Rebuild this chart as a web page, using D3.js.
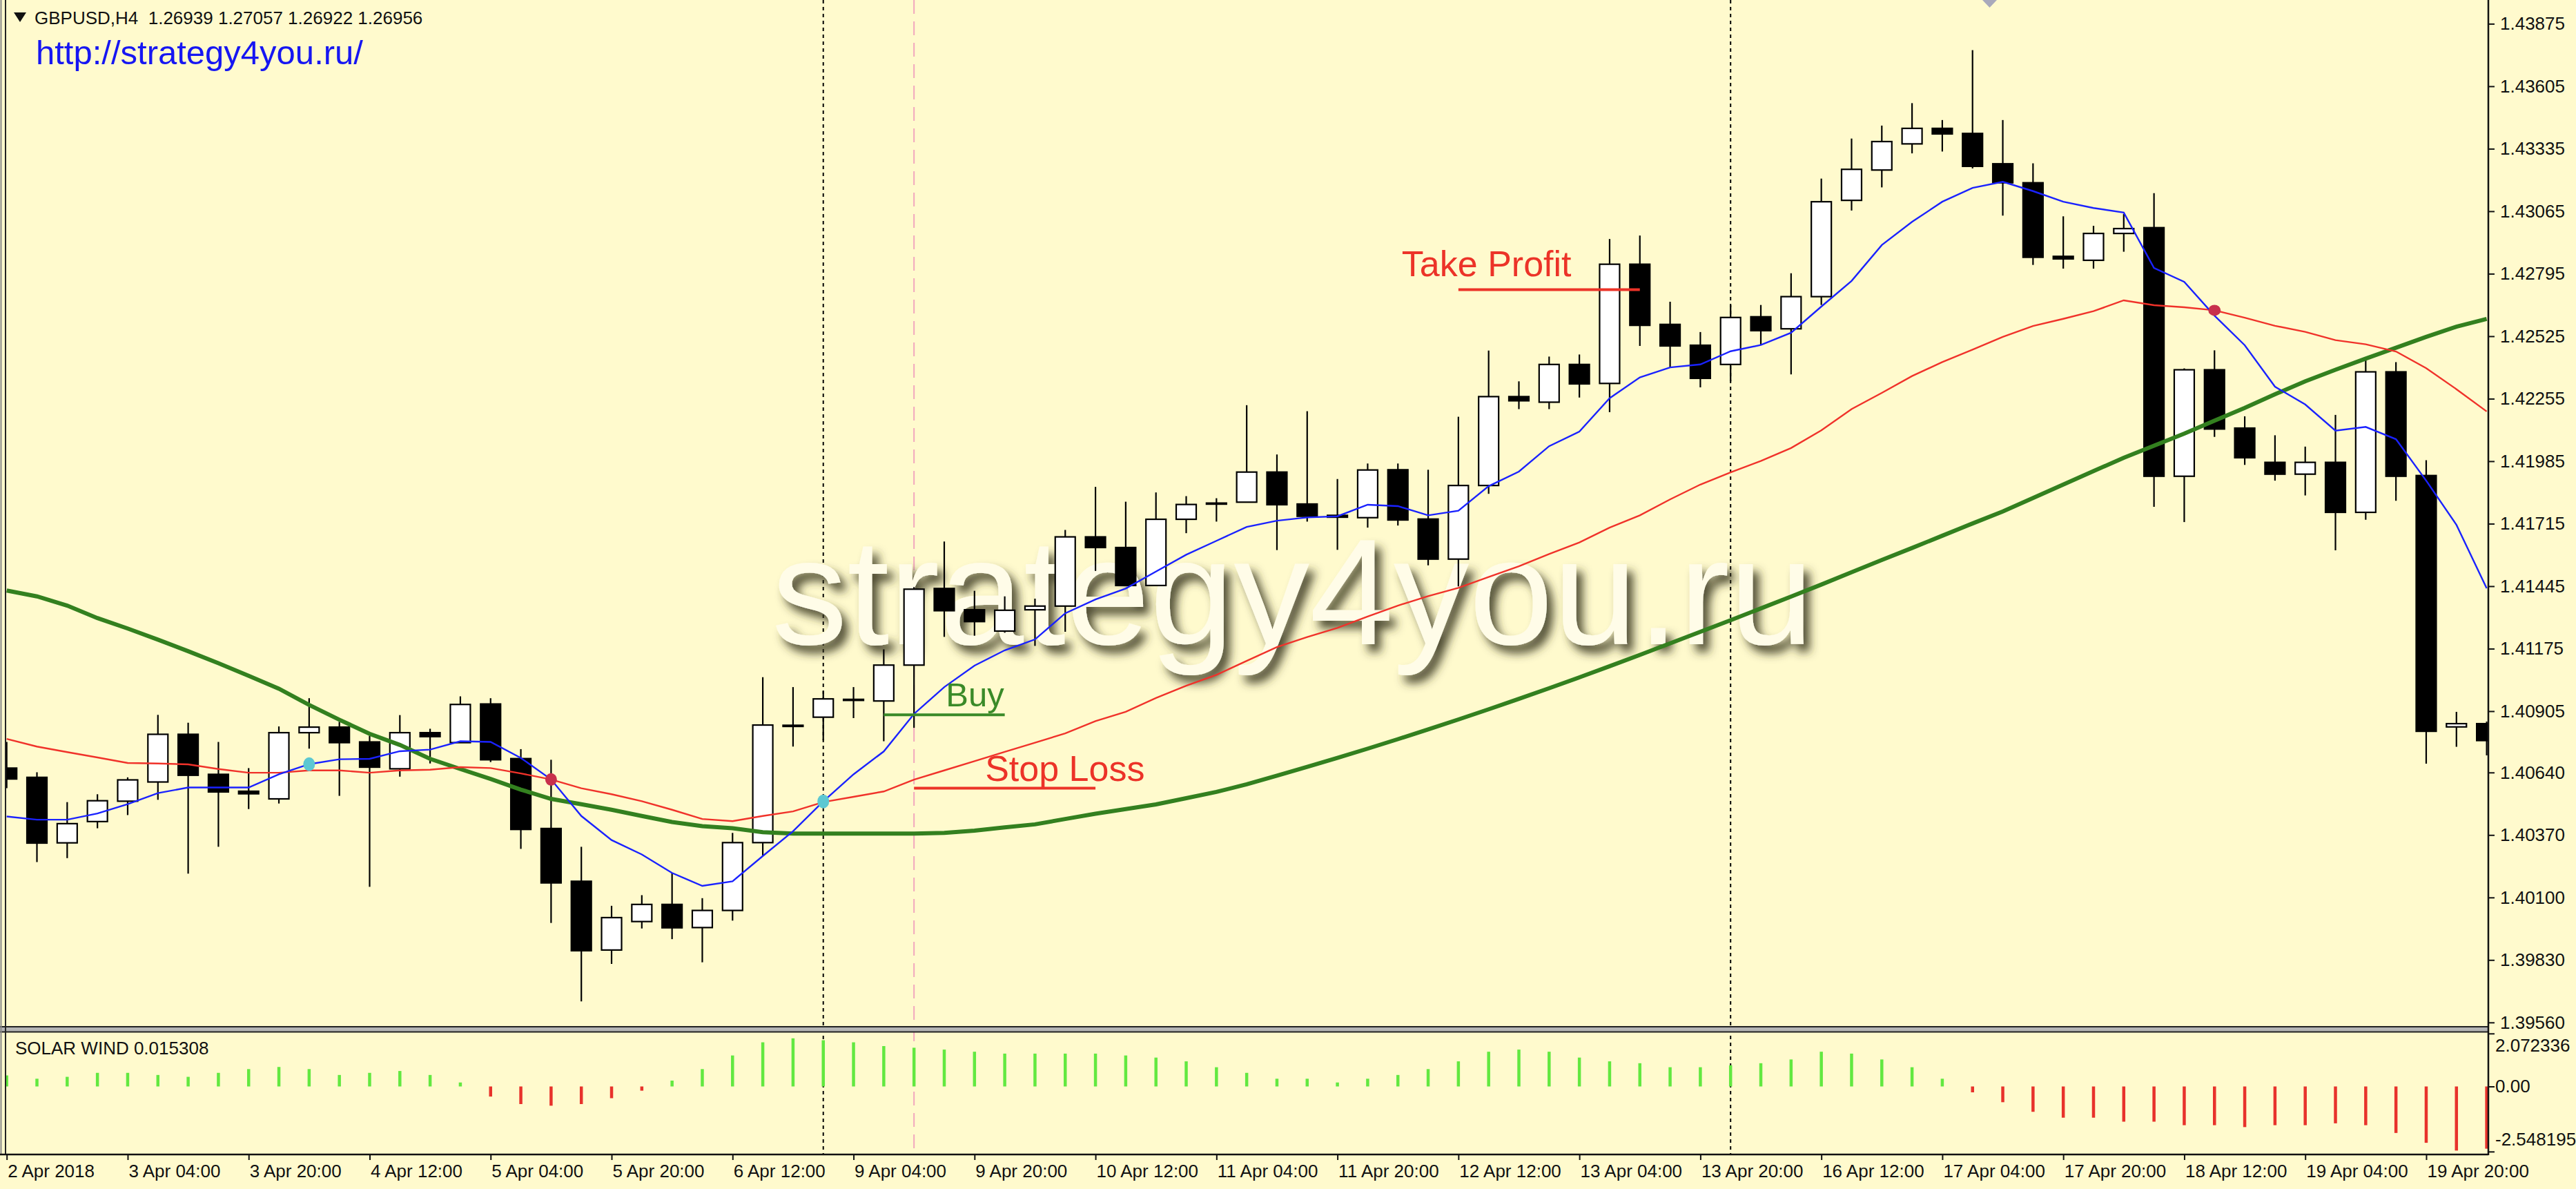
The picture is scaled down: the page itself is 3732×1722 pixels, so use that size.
<!DOCTYPE html>
<html>
<head>
<meta charset="utf-8">
<script src="https://cdn.jsdelivr.net/npm/d3@7"></script>
<style>
body { margin: 0; background: #fffacd; }
svg { display: block; }
</style>
</head>
<body>
<div id="chart"></div>
<script>
// GBPUSD H4 candles (bar 0 = 2 Apr 12:00)
var opens  = [1.40659,1.40619,1.40336,1.40428,1.40516,1.40599,1.40805,1.40632,1.40559,1.40526,
              1.40812,1.40836,1.40772,1.40656,1.40812,1.40769,1.40936,1.40700,1.40398,1.40170,
              1.39873,1.39996,1.40070,1.39970,1.40044,1.40337,1.40844,1.40879,1.40956,1.40949,
              1.41104,1.41435,1.41343,1.41251,1.41343,1.41359,1.41658,1.41612,1.41448,1.41734,
              1.41804,1.41808,1.41938,1.41800,1.41751,1.41741,1.41948,1.41735,1.41562,1.41880,
              1.42264,1.42240,1.42403,1.42321,1.42836,1.42576,1.42486,1.42403,1.42609,1.42557,
              1.42696,1.43112,1.43243,1.43356,1.43423,1.43401,1.43270,1.43188,1.42870,1.42853,
              1.42969,1.42994,1.41920,1.42380,1.42128,1.41980,1.41929,1.41980,1.41764,1.42371,
              1.41923,1.40837,1.40851];
var highs  = [1.40772,1.40641,1.40512,1.40546,1.40619,1.40889,1.40855,1.40772,1.40659,1.40839,
              1.40961,1.40859,1.40799,1.40888,1.40829,1.40969,1.40961,1.40741,1.40695,1.40319,
              1.40064,1.40110,1.40206,1.40097,1.40379,1.41052,1.41009,1.40992,1.41009,1.41172,
              1.41441,1.41638,1.41425,1.41401,1.41391,1.41688,1.41874,1.41810,1.41850,1.41834,
              1.41825,1.42227,1.42014,1.42201,1.41908,1.41975,1.41975,1.41948,1.42177,1.42463,
              1.42330,1.42437,1.42446,1.42945,1.42960,1.42674,1.42543,1.42660,1.42660,1.42797,
              1.43206,1.43379,1.43435,1.43532,1.43459,1.43761,1.43459,1.43272,1.43043,1.43002,
              1.43053,1.43143,1.42386,1.42464,1.42179,1.42097,1.42048,1.42185,1.42435,1.42413,
              1.41989,1.40902,1.40860];
var lows   = [1.40572,1.40253,1.40270,1.40399,1.40456,1.40522,1.40203,1.40319,1.40482,1.40506,
              1.40743,1.40539,1.40146,1.40622,1.40679,1.40769,1.40685,1.40310,1.39990,1.39651,
              1.39813,1.39966,1.39920,1.39820,1.40000,1.40279,1.40752,1.40779,1.40875,1.40775,
              1.40833,1.41226,1.41231,1.41244,1.41187,1.41248,1.41511,1.41448,1.41448,1.41674,
              1.41724,1.41808,1.41601,1.41724,1.41602,1.41698,1.41707,1.41535,1.41444,1.41844,
              1.42210,1.42210,1.42260,1.42197,1.42483,1.42390,1.42304,1.42330,1.42487,1.42360,
              1.42660,1.43068,1.43168,1.43315,1.43323,1.43250,1.43046,1.42833,1.42817,1.42817,
              1.42890,1.41788,1.41722,1.42090,1.41969,1.41901,1.41837,1.41600,1.41732,1.41814,
              1.40678,1.40751,1.40714];
var closes = [1.40612,1.40335,1.40419,1.40518,1.40608,1.40805,1.40628,1.40556,1.40548,1.40812,
              1.40836,1.40769,1.40663,1.40812,1.40795,1.40934,1.40695,1.40394,1.40163,1.39870,
              1.40013,1.40070,1.39969,1.40044,1.40337,1.40845,1.40839,1.40958,1.40954,1.41104,
              1.41432,1.41339,1.41292,1.41341,1.41359,1.41658,1.41612,1.41448,1.41734,1.41798,
              1.41801,1.41938,1.41797,1.41747,1.41743,1.41947,1.41731,1.41562,1.41880,1.42264,
              1.42246,1.42403,1.42319,1.42836,1.42572,1.42483,1.42343,1.42606,1.42549,1.42696,
              1.43106,1.43246,1.43366,1.43423,1.43399,1.43259,1.43188,1.42866,1.42859,1.42969,
              1.42990,1.41920,1.42380,1.42124,1.42000,1.41929,1.41980,1.41764,1.42371,1.41920,
              1.40818,1.40851,1.40778];

// moving averages (blue fast, red middle, green slow)
var maFast = [1.40450,1.40436,1.40436,1.40463,1.40503,1.40551,1.40575,1.40575,1.40575,1.40632,
              1.40676,1.40697,1.40699,1.40732,1.40739,1.40775,1.40772,1.40703,1.40610,1.40452,
              1.40348,1.40286,1.40206,1.40150,1.40170,1.40279,1.40386,1.40515,1.40632,1.40731,
              1.40893,1.41009,1.41102,1.41168,1.41215,1.41328,1.41388,1.41435,1.41508,1.41581,
              1.41641,1.41701,1.41728,1.41742,1.41747,1.41797,1.41791,1.41751,1.41771,1.41877,
              1.41940,1.42050,1.42113,1.42257,1.42347,1.42390,1.42403,1.42460,1.42487,1.42540,
              1.42653,1.42764,1.42919,1.43019,1.43106,1.43166,1.43192,1.43152,1.43106,1.43079,
              1.43059,1.42820,1.42760,1.42614,1.42486,1.42307,1.42230,1.42117,1.42133,1.42080,
              1.41901,1.41710,1.41436];
var maMid  = [1.40785,1.40752,1.40728,1.40705,1.40681,1.40679,1.40675,1.40655,1.40639,1.40639,
              1.40649,1.40649,1.40639,1.40649,1.40652,1.40663,1.40659,1.40636,1.40610,1.40572,
              1.40546,1.40516,1.40479,1.40439,1.40430,1.40452,1.40472,1.40512,1.40535,1.40558,
              1.40609,1.40649,1.40689,1.40729,1.40769,1.40809,1.40862,1.40902,1.40962,1.41015,
              1.41062,1.41122,1.41182,1.41225,1.41265,1.41314,1.41361,1.41402,1.41438,1.41485,
              1.41531,1.41584,1.41634,1.41698,1.41751,1.41820,1.41884,1.41937,1.41986,1.42042,
              1.42118,1.42210,1.42280,1.42353,1.42413,1.42467,1.42522,1.42569,1.42600,1.42633,
              1.42680,1.42659,1.42650,1.42637,1.42605,1.42570,1.42544,1.42508,1.42490,1.42459,
              1.42387,1.42296,1.42200];
var maSlow = [1.41426,1.41401,1.41361,1.41307,1.41262,1.41214,1.41164,1.41112,1.41058,1.41002,
              1.40932,1.40868,1.40807,1.40759,1.40699,1.40655,1.40612,1.40566,1.40526,1.40503,
              1.40479,1.40452,1.40426,1.40408,1.40399,1.40382,1.40376,1.40376,1.40376,1.40376,
              1.40376,1.40379,1.40389,1.40403,1.40416,1.40439,1.40462,1.40482,1.40502,1.40529,
              1.40556,1.40589,1.40626,1.40664,1.40703,1.40743,1.40784,1.40826,1.40869,1.40913,
              1.40958,1.41004,1.41051,1.41099,1.41148,1.41198,1.41248,1.41298,1.41349,1.41400,
              1.41452,1.41505,1.41558,1.41610,1.41663,1.41716,1.41768,1.41826,1.41884,1.41942,
              1.42000,1.42052,1.42104,1.42160,1.42215,1.42274,1.42330,1.42380,1.42428,1.42475,
              1.42522,1.42566,1.42600];

// SOLAR WIND histogram
var solarWind = [0.432,0.303,0.377,0.533,0.533,0.450,0.377,0.533,0.680,0.763,
                 0.680,0.450,0.533,0.606,0.450,0.156,-0.395,-0.689,-0.753,-0.689,
                 -0.459,-0.165,0.230,0.680,1.213,1.728,1.884,1.810,1.728,1.581,
                 1.516,1.443,1.360,1.286,1.286,1.286,1.286,1.213,1.130,0.983,
                 0.753,0.533,0.303,0.303,0.156,0.303,0.450,0.680,0.983,1.360,
                 1.443,1.360,1.130,0.983,0.910,0.753,0.753,0.827,0.910,1.057,
                 1.360,1.286,1.057,0.753,0.303,-0.230,-0.616,-0.992,-1.222,-1.222,
                 -1.378,-1.378,-1.516,-1.516,-1.590,-1.516,-1.516,-1.443,-1.516,-1.820,
                 -2.205,-2.509,-2.435];

var timeTicks  = [0,4,8,12,16,20,24,28,32,36,40,44,48,52,56,60,64,68,72,76,80];
var timeLabels = ["2 Apr 2018","3 Apr 04:00","3 Apr 20:00","4 Apr 12:00","5 Apr 04:00","5 Apr 20:00",
                  "6 Apr 12:00","9 Apr 04:00","9 Apr 20:00","10 Apr 12:00","11 Apr 04:00","11 Apr 20:00",
                  "12 Apr 12:00","13 Apr 04:00","13 Apr 20:00","16 Apr 12:00","17 Apr 04:00","17 Apr 20:00",
                  "18 Apr 12:00","19 Apr 04:00","19 Apr 20:00"];
var priceTicks = [1.43875,1.43605,1.43335,1.43065,1.42795,1.42525,1.42255,1.41985,1.41715,
                  1.41445,1.41175,1.40905,1.40640,1.40370,1.40100,1.39830,1.39560];
var windTicks = [2.072336, 0, -2.548195];
var windTickLabels = ["2.072336", "0.00", "-2.548195"];

var weekSeparators = [27, 57];
var markerBar = 30;
var upDots = [10, 27];        // cyan dots on the fast MA
var downDots = [18];          // crimson dots on the fast MA
var downDotsMid = [73];       // crimson dot on the middle MA

var tradeNames  = ["Buy", "Stop Loss", "Take Profit"];
var tradePrices = [1.40889, 1.40572, 1.42726];
var tradeFrom   = [29, 30, 48];
var tradeTo     = [33, 36, 54];

var W = 3732, H = 1722;
var axisX = 3605;
var font = "'Liberation Sans', Arial, sans-serif";

var svg = d3.select("#chart").append("svg")
    .attr("width", W).attr("height", H)
    .style("background", "#fffacd");

var x = d3.scaleLinear().domain([0, 82]).range([9.7, 3602.6]);
var y = d3.scaleLinear().domain([1.39560, 1.43875]).range([1480.8, 34.4]);
var yw = d3.scaleLinear().domain([-2.548195, 2.072336]).range([1667.8, 1496.8]);

var defs = svg.append("defs");
defs.append("clipPath").attr("id", "clipMain").append("rect")
    .attr("x", 9).attr("y", 0).attr("width", axisX - 9).attr("height", 1487);
defs.append("clipPath").attr("id", "clipWind").append("rect")
    .attr("x", 9).attr("y", 1495).attr("width", axisX - 9).attr("height", 176);

var flt = defs.append("filter").attr("id", "wmShadow")
    .attr("x", "-5%").attr("y", "-30%").attr("width", "115%").attr("height", "170%");
flt.append("feGaussianBlur").attr("in", "SourceAlpha").attr("stdDeviation", 7).attr("result", "blur");
flt.append("feOffset").attr("in", "blur").attr("dx", 9).attr("dy", 11).attr("result", "off");
flt.append("feFlood").attr("flood-color", "#3a3820").attr("flood-opacity", 0.9).attr("result", "col");
flt.append("feComposite").attr("in", "col").attr("in2", "off").attr("operator", "in").attr("result", "shadow");
var merge = flt.append("feMerge");
merge.append("feMergeNode").attr("in", "shadow");
merge.append("feMergeNode").attr("in", "SourceGraphic");

// vertical separators through both panels
svg.selectAll("line.sep").data(weekSeparators).enter().append("line")
    .attr("class", "sep")
    .attr("x1", function (d) { return x(d); }).attr("x2", function (d) { return x(d); })
    .attr("y1", 0).attr("y2", 1671)
    .attr("stroke", "#000").attr("stroke-width", 2).attr("stroke-dasharray", "5,5");

svg.append("line")
    .attr("x1", x(markerBar)).attr("x2", x(markerBar))
    .attr("y1", 0).attr("y2", 1671)
    .attr("stroke", "#f2a7bd").attr("stroke-width", 2).attr("stroke-dasharray", "20,11");

// main panel
var main = svg.append("g").attr("clip-path", "url(#clipMain)");

// watermark, under the candles
main.append("text")
    .attr("x", 1118).attr("y", 933)
    .attr("font-family", font).attr("font-size", 219)
    .attr("fill", "#fffce8")
    .attr("filter", "url(#wmShadow)")
    .text("strategy4you.ru");

var bars = d3.range(opens.length).map(function (i) {
    return { i: i, o: opens[i], h: highs[i], l: lows[i], c: closes[i] };
});

main.selectAll("line.wick").data(bars).enter().append("line")
    .attr("class", "wick")
    .attr("x1", function (d) { return x(d.i); }).attr("x2", function (d) { return x(d.i); })
    .attr("y1", function (d) { return y(d.h); }).attr("y2", function (d) { return y(d.l); })
    .attr("stroke", "#000").attr("stroke-width", 2.2);

var bodyW = 29;
main.selectAll("rect.body").data(bars).enter().append("rect")
    .attr("class", "body")
    .attr("x", function (d) { return x(d.i) - bodyW / 2; })
    .attr("width", bodyW)
    .attr("y", function (d) { return y(Math.max(d.o, d.c)); })
    .attr("height", function (d) { return Math.max(y(Math.min(d.o, d.c)) - y(Math.max(d.o, d.c)), 1.5); })
    .attr("fill", function (d) { return d.c >= d.o ? "#fff" : "#000"; })
    .attr("stroke", "#000").attr("stroke-width", 2.2);

// moving averages
function maLine(arr) {
    return d3.line().x(function (d, i) { return x(i); }).y(function (d) { return y(d); })(arr);
}
main.append("path").attr("d", maLine(maSlow)).attr("fill", "none")
    .attr("stroke", "#33801f").attr("stroke-width", 6);
main.append("path").attr("d", maLine(maMid)).attr("fill", "none")
    .attr("stroke", "#f0322a").attr("stroke-width", 2.4);
main.append("path").attr("d", maLine(maFast)).attr("fill", "none")
    .attr("stroke", "#1a22ff").attr("stroke-width", 2.4);

main.selectAll("ellipse.up").data(upDots).enter().append("ellipse")
    .attr("cx", function (d) { return x(d); }).attr("cy", function (d) { return y(maFast[d]); })
    .attr("rx", 8.5).attr("ry", 10).attr("fill", "#5cc8d2");
main.selectAll("ellipse.dn").data(downDots).enter().append("ellipse")
    .attr("cx", function (d) { return x(d); }).attr("cy", function (d) { return y(maFast[d]); })
    .attr("rx", 8.5).attr("ry", 9).attr("fill", "#c8304c");
main.selectAll("ellipse.dnm").data(downDotsMid).enter().append("ellipse")
    .attr("cx", function (d) { return x(d); }).attr("cy", function (d) { return y(maMid[d]); })
    .attr("rx", 9).attr("ry", 8).attr("fill", "#c8304c");

// trade levels
var tradeColors = ["#3a8a28", "#ec3328", "#ec3328"];
var tradeDx = [90, 103, -82];
var tradeDy = [-12, -11, -20];
var tradeSize = [49, 52, 52];
tradeNames.forEach(function (name, k) {
    main.append("line")
        .attr("x1", x(tradeFrom[k])).attr("x2", x(tradeTo[k]))
        .attr("y1", y(tradePrices[k])).attr("y2", y(tradePrices[k]))
        .attr("stroke", tradeColors[k]).attr("stroke-width", 4);
    main.append("text")
        .attr("x", x(tradeFrom[k]) + tradeDx[k]).attr("y", y(tradePrices[k]) + tradeDy[k])
        .attr("font-family", font).attr("font-size", tradeSize[k])
        .attr("fill", tradeColors[k])
        .text(name);
});

// indicator panel
var wind = svg.append("g").attr("clip-path", "url(#clipWind)");
wind.selectAll("line.sw").data(solarWind).enter().append("line")
    .attr("x1", function (d, i) { return x(i); }).attr("x2", function (d, i) { return x(i); })
    .attr("y1", yw(0)).attr("y2", function (d) { return yw(d); })
    .attr("stroke", function (d) { return d >= 0 ? "#62e840" : "#e8322b"; })
    .attr("stroke-width", 4.5);

svg.append("text").attr("x", 22).attr("y", 1527)
    .attr("font-family", font).attr("font-size", 26).attr("fill", "#111")
    .text("SOLAR WIND 0.015308");

// frame lines
svg.append("rect").attr("x", 0).attr("y", 1487).attr("width", axisX).attr("height", 7).attr("fill", "#b4b4b4");
svg.append("line").attr("x1", 0).attr("x2", axisX).attr("y1", 1487).attr("y2", 1487).attr("stroke", "#222").attr("stroke-width", 2);
svg.append("line").attr("x1", 0).attr("x2", axisX).attr("y1", 1494.5).attr("y2", 1494.5).attr("stroke", "#222").attr("stroke-width", 2);
svg.append("line").attr("x1", 1.5).attr("x2", 1.5).attr("y1", 0).attr("y2", 1672).attr("stroke", "#8a8a8a").attr("stroke-width", 2);
svg.append("line").attr("x1", 8).attr("x2", 8).attr("y1", 0).attr("y2", 1672).attr("stroke", "#222").attr("stroke-width", 2);
svg.append("line").attr("x1", axisX).attr("x2", axisX).attr("y1", 0).attr("y2", 1673).attr("stroke", "#111").attr("stroke-width", 2.5);
svg.append("line").attr("x1", 0).attr("x2", axisX).attr("y1", 1672).attr("y2", 1672).attr("stroke", "#111").attr("stroke-width", 2.5);

// axes
var yAxis = d3.axisRight(y).tickValues(priceTicks).tickSize(9).tickPadding(8)
    .tickFormat(d3.format(".5f"));
var gy = svg.append("g").attr("transform", "translate(" + axisX + ",0)").call(yAxis);

var wAxis = d3.axisRight(yw).tickValues(windTicks).tickSize(9).tickPadding(1)
    .tickFormat(function (d, i) { return windTickLabels[i]; });
var gw = svg.append("g").attr("transform", "translate(" + axisX + ",0)").call(wAxis);
gw.selectAll(".tick text").attr("dy", function (d, i) { return i === 0 ? "1.0em" : (i === 2 ? "-0.35em" : "0.32em"); });

var xAxis = d3.axisBottom(x).tickValues(timeTicks).tickSize(8).tickPadding(7)
    .tickFormat(function (d, i) { return timeLabels[i]; });
var gx = svg.append("g").attr("transform", "translate(0,1672)").call(xAxis);
gx.selectAll(".tick text").attr("text-anchor", "start").attr("x", 1);

[gy, gw, gx].forEach(function (g) {
    g.select(".domain").remove();
    g.selectAll(".tick line").attr("stroke", "#111").attr("stroke-width", 2);
    g.selectAll(".tick text").attr("font-family", font).attr("font-size", 26).attr("fill", "#111");
});

// header texts
svg.append("path").attr("d", "M20,18 L38,18 L29,32 Z").attr("fill", "#111");
svg.append("text").attr("x", 50).attr("y", 35)
    .attr("font-family", font).attr("font-size", 26).attr("fill", "#111")
    .attr("xml:space", "preserve")
    .text("GBPUSD,H4  1.26939 1.27057 1.26922 1.26956");
svg.append("text").attr("x", 52).attr("y", 93)
    .attr("font-family", font).attr("font-size", 49).attr("fill", "#1616f2")
    .text("http://strategy4you.ru/");

// chart shift marker
svg.append("path").attr("d", "M2872,0 L2893,0 L2882.5,11 Z").attr("fill", "#a9a9bb");
</script>
</body>
</html>
